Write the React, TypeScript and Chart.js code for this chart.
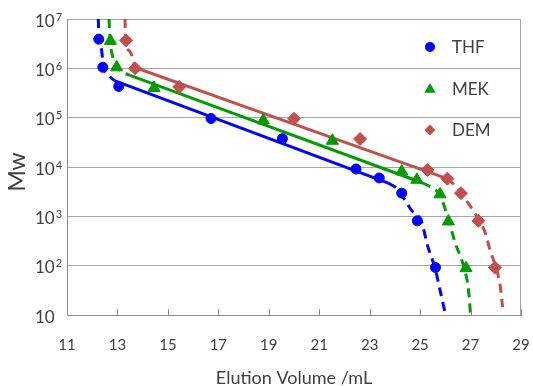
import React, { useEffect, useRef } from 'react';
import { Chart, registerables } from 'chart.js';

Chart.register(...registerables);

// ---- data ----
const xTicks = [11, 13, 15, 17, 19, 21, 23, 25, 27, 29];
const yTicks = [1e1, 1e2, 1e3, 1e4, 1e5, 1e6, 1e7];
const seriesNames = ['THF', 'MEK', 'DEM'];
const xTitle = 'Elution Volume /mL';
const yTitle = 'Mw';

// measured standards (elution volume, Mw)
const thfPoints = [[12.26, 3.9e6], [12.42, 1.05e6], [13.05, 4.3e5], [16.71, 9.6e4], [19.54, 3.75e4], [22.46, 9.1e3], [23.38, 6.0e3], [24.27, 2.95e3], [24.89, 8.1e2], [25.61, 92]];
const mekPoints = [[12.72, 3.6e6], [12.97, 1.05e6], [14.45, 4.0e5], [18.78, 8.8e4], [21.52, 3.4e4], [24.27, 8.1e3], [24.87, 5.5e3], [25.79, 2.8e3], [26.12, 7.9e2], [26.82, 89]];
const demPoints = [[13.34, 3.7e6], [13.70, 1.0e6], [15.45, 4.2e5], [20.0, 9.5e4], [22.62, 3.7e4], [25.29, 8.7e3], [26.08, 5.8e3], [26.62, 2.95e3], [27.31, 8.1e2], [27.97, 91]];

// calibration curves: dashed upper part, solid linear part, dashed lower part
const thfUpper = [[12.24, 1e7], [12.27, 4.0e6], [12.35, 2.75e6], [12.45, 1.09e6], [12.67, 7.1e5], [12.88, 5.64e5]];
const thfSolid = [[12.88, 5.64e5], [23.74, 4.72e3]];
const thfLower = [[23.74, 4.72e3], [24.09, 3.6e3], [24.68, 1.29e3], [25.04, 8.1e2], [25.31, 2.4e2], [25.59, 90], [25.79, 32], [26.01, 10]];

const mekUpper = [[12.665, 1e7], [12.705, 3.84e6], [12.745, 2.5e6], [12.98, 1.09e6], [13.22, 8.4e5], [13.5, 7.2e5]];
const mekSolid = [[13.5, 7.2e5], [25.08, 4.8e3]];
const mekLower = [[25.08, 4.8e3], [25.47, 3.8e3], [25.79, 2.7e3], [26.03, 1.23e3], [26.19, 6.45e2], [26.42, 2.63e2], [26.62, 1.44e2], [26.82, 65], [26.92, 32], [27.0, 10]];

const demUpper = [[13.3, 1e7], [13.32, 3.84e6], [13.5, 2.19e6], [13.7, 1.04e6]];
const demSolid = [[13.7, 1.04e6], [26.07, 5.8e3]];
const demLower = [[26.07, 5.8e3], [26.42, 4.0e3], [26.9, 1.88e3], [27.3, 8.9e2], [27.57, 4.84e2], [27.77, 2.09e2], [28.01, 90], [28.17, 41], [28.27, 14.5]];

const BLUE = '#0000ff';
const GREEN = '#009a00';
const RED = '#c0504d';
const GRID = '#a6a6a6';
const AXIS = '#8c8c8c';
const TEXT = '#404040';
const FONT = 'Lato, "Open Sans", sans-serif';

const toXY = (pts: number[][]) => pts.map(([x, y]) => ({ x, y }));

const markerSet = (label: string, pts: number[][], color: string, style: string, r: number) => ({
  label,
  data: toXY(pts),
  showLine: false,
  pointStyle: style,
  pointRadius: r,
  pointHoverRadius: r,
  pointBackgroundColor: color,
  pointBorderColor: color,
  pointBorderWidth: 1,
});

const curveSet = (label: string, pts: number[][], color: string, dashed: boolean) => ({
  label,
  data: toXY(pts),
  showLine: true,
  borderColor: color,
  borderWidth: 3,
  borderDash: dashed ? [9, 6] : [],
  borderCapStyle: 'butt',
  pointRadius: 0,
  pointHoverRadius: 0,
  fill: false,
  cubicInterpolationMode: 'monotone',
});

function drawMarker(ctx: CanvasRenderingContext2D, style: string, x: number, y: number, r: number, color: string) {
  ctx.fillStyle = color;
  ctx.beginPath();
  if (style === 'circle') {
    ctx.arc(x, y, r, 0, Math.PI * 2);
  } else if (style === 'triangle') {
    const h = r * 1.5;
    ctx.moveTo(x, y - r);
    ctx.lineTo(x + r * 0.866, y + r * 0.5);
    ctx.lineTo(x - r * 0.866, y + r * 0.5);
    ctx.closePath();
    void h;
  } else {
    ctx.moveTo(x, y - r);
    ctx.lineTo(x + r, y);
    ctx.lineTo(x, y + r);
    ctx.lineTo(x - r, y);
    ctx.closePath();
  }
  ctx.fill();
}

const decorPlugin = {
  id: 'decor',
  afterDraw(chart: any) {
    const { ctx, chartArea: ca, scales } = chart;
    const xs = scales.x;
    const ys = scales.y;
    ctx.save();
    // right border of plot area
    ctx.strokeStyle = GRID;
    ctx.lineWidth = 1;
    ctx.beginPath();
    ctx.moveTo(ca.right - 0.5, ca.top);
    ctx.lineTo(ca.right - 0.5, ca.bottom);
    ctx.stroke();
    // inward x tick marks
    ctx.strokeStyle = AXIS;
    xTicks.forEach((v) => {
      const px = Math.round(xs.getPixelForValue(v)) + 0.5;
      ctx.beginPath();
      ctx.moveTo(px, ca.bottom);
      ctx.lineTo(px, ca.bottom - 6);
      ctx.stroke();
    });
    // x tick labels
    ctx.fillStyle = TEXT;
    ctx.font = `15px ${FONT}`;
    ctx.textAlign = 'center';
    ctx.textBaseline = 'alphabetic';
    xTicks.forEach((v) => {
      ctx.fillText(String(v), xs.getPixelForValue(v), ca.bottom + 35);
    });
    // y tick labels with superscript exponents
    ctx.textAlign = 'left';
    yTicks.forEach((v) => {
      const py = ys.getPixelForValue(v);
      const e = Math.round(Math.log10(v));
      ctx.font = `17px ${FONT}`;
      ctx.fillText('10', 35, py + 7.5);
      if (e !== 1) {
        const w = ctx.measureText('10').width;
        ctx.font = `11px ${FONT}`;
        ctx.fillText(String(e), 35 + w + 1, py + 1.5);
      }
    });
    // x title
    ctx.font = `18px ${FONT}`;
    ctx.textAlign = 'center';
    ctx.fillText(xTitle, (ca.left + ca.right) / 2, 384);
    // y title
    ctx.save();
    ctx.translate(25, 172);
    ctx.rotate(-Math.PI / 2);
    ctx.font = `23px ${FONT}`;
    ctx.textAlign = 'center';
    ctx.fillText(yTitle, 0, 0);
    ctx.restore();
    // legend
    const legend = [
      { name: seriesNames[0], color: BLUE, style: 'circle', r: 5, y: 47 },
      { name: seriesNames[1], color: GREEN, style: 'triangle', r: 6.5, y: 88.5 },
      { name: seriesNames[2], color: RED, style: 'rectRot', r: 5.5, y: 130 },
    ];
    ctx.font = `17px ${FONT}`;
    ctx.textAlign = 'left';
    ctx.textBaseline = 'middle';
    legend.forEach((l) => {
      drawMarker(ctx, l.style, 430, l.y + (l.style === 'triangle' ? 1 : 0), l.r, l.color);
      ctx.fillStyle = TEXT;
      ctx.fillText(l.name, 452, l.y + 1);
    });
    ctx.restore();
  },
};

export default function App() {
  const ref = useRef<HTMLCanvasElement | null>(null);
  useEffect(() => {
    if (!ref.current) return;
    const chart = new Chart(ref.current, {
      type: 'scatter',
      data: {
        datasets: [
          markerSet(seriesNames[0], thfPoints, BLUE, 'circle', 5),
          markerSet(seriesNames[1], mekPoints, GREEN, 'triangle', 7),
          markerSet(seriesNames[2], demPoints, RED, 'rectRot', 6.5),
          curveSet('THF upper', thfUpper, BLUE, true),
          curveSet('THF fit', thfSolid, BLUE, false),
          curveSet('THF lower', thfLower, BLUE, true),
          curveSet('MEK upper', mekUpper, GREEN, true),
          curveSet('MEK fit', mekSolid, GREEN, false),
          curveSet('MEK lower', mekLower, GREEN, true),
          curveSet('DEM upper', demUpper, RED, true),
          curveSet('DEM fit', demSolid, RED, false),
          curveSet('DEM lower', demLower, RED, true),
        ] as any,
      },
      options: {
        animation: false,
        responsive: false,
        events: [],
        layout: { padding: { top: 19, right: 12, left: 0, bottom: 0 } },
        plugins: { legend: { display: false }, tooltip: { enabled: false } },
        scales: {
          x: {
            type: 'linear',
            min: 11,
            max: 29,
            ticks: { display: false, stepSize: 2 },
            grid: { display: false },
            border: { display: true, color: AXIS, width: 1 },
            afterFit: (s: any) => { s.height = 71; },
          },
          y: {
            type: 'logarithmic',
            min: 10,
            max: 1e7,
            ticks: { display: false },
            afterBuildTicks: (s: any) => { s.ticks = yTicks.map((v) => ({ value: v, major: true })); },
            grid: { display: true, color: GRID, lineWidth: 1, drawTicks: false },
            border: { display: true, color: AXIS, width: 1 },
            afterFit: (s: any) => { s.width = 67; },
          },
        },
      } as any,
      plugins: [decorPlugin],
    });
    return () => chart.destroy();
  }, []);
  return (
    <div style={{ position: 'absolute', left: 0, top: 0, width: 533, height: 386 }}>
      <canvas ref={ref} width={533} height={386} style={{ display: 'block' }} />
    </div>
  );
}
